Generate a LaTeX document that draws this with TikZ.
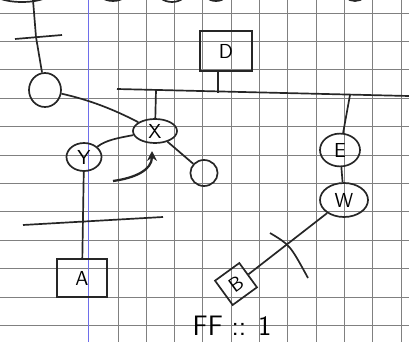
\documentclass[tikz,border=0pt]{standalone}
\usetikzlibrary{shapes.geometric,arrows.meta}
\definecolor{marginblue}{RGB}{110,110,235}
\begin{document}
\begin{tikzpicture}[x=0.025cm,y=-0.025cm,
  ink/.style={draw=black!85,line width=1.2pt},
  oval/.style={ink,ellipse,inner sep=0pt,font=\sffamily\Large},
  boxnode/.style={ink,rectangle,inner sep=0pt,font=\sffamily\Large},
  gridline/.style={draw=black!50,line width=0.6pt},
  marginline/.style={draw=marginblue,line width=1pt}]
\useasboundingbox (0,0) rectangle (409,342);
\clip (0,0) rectangle (409,342);
\fill[white] (0,0) rectangle (409,342);
% paper
\foreach \i in {0,...,10} \draw[gridline] ({118+28.3*\i},0) -- ({118+28.3*\i},342);
\foreach \j in {0,...,11} \draw[gridline] (0,{13+28.4*\j}) -- (409,{13+28.4*\j});
\draw[marginline] (88.5,0) -- (88.5,342);
% shapes cut off at the top edge
\draw[ink] (22,-10) ellipse [x radius=32, y radius=12];
\draw[ink] (113,-12) ellipse [x radius=17, y radius=13];
\draw[ink] (172,-11) ellipse [x radius=16, y radius=13];
\draw[ink] (216,-11) ellipse [x radius=14, y radius=12];
\draw[ink] (355,-11) ellipse [x radius=13, y radius=12];
% nodes
\node[oval,minimum width=0.8cm,minimum height=0.85cm] (c1) at (45,90) {};
\node[oval,minimum width=1.1cm,minimum height=0.6cm] (X) at (155,131) {X};
\node[oval,minimum width=0.875cm,minimum height=0.7cm] (Y) at (84,157) {Y};
\node[oval,minimum width=0.68cm,minimum height=0.65cm] (s) at (204,173) {};
\node[boxnode,minimum width=1.3cm,minimum height=1.0cm] (D) at (226,51) {D};
\node[oval,minimum width=1.0cm,minimum height=0.82cm] (E) at (340,150) {E};
\node[oval,minimum width=1.2cm,minimum height=0.85cm] (W) at (344,200) {W};
\node[boxnode,minimum size=0.75cm,rotate=36] (B) at (236,284) {B};
\node[boxnode,minimum width=1.25cm,minimum height=0.95cm] (A) at (82,278) {A};
\node[font=\sffamily\fontsize{20}{22}\selectfont,anchor=base,inner sep=0pt] (ff) at (232,335) {FF :: 1};
% coordinates
\coordinate (t0) at (33,0);
\coordinate (t1) at (36,37);
\coordinate (bl) at (15,39);
\coordinate (br) at (62,35);
\coordinate (h1) at (117,89);
\coordinate (h2) at (409,96);
\coordinate (hx) at (156,90);
\coordinate (hd) at (218,93);
\coordinate (he) at (350,95);
\coordinate (k1) at (270,233);
\coordinate (k2) at (308,278);
\coordinate (m1) at (23,225);
\coordinate (m2) at (163,217);
\coordinate (a1) at (113,181);
\coordinate (a2) at (152,151);
% connectors
\draw[ink] (t0) -- (t1) -- (c1);
\draw[ink] (bl) -- (br);
\draw[ink] (c1) .. controls (90,100) and (115,110) .. (X);
\draw[ink] (h1) -- (h2);
\draw[ink] (hx) -- (X);
\draw[ink] (D.south -| hd) -- (hd);
\draw[ink] (he) -- (E);
\draw[ink] (E) -- (W);
\draw[ink] (W) -- (B);
\draw[ink] (k1) .. controls (290,245) .. (k2);
\draw[ink] (Y) .. controls (106,140) and (118,138) .. (X);
\draw[ink] (Y) -- (A);
\draw[ink] (m1) -- (m2);
\draw[ink] (X) -- (s);
\draw[ink,line width=1.6pt,-{Stealth[length=7pt,width=7pt]}] (a1) .. controls (135,178) and (152,170) .. (a2);
\end{tikzpicture}
\end{document}
